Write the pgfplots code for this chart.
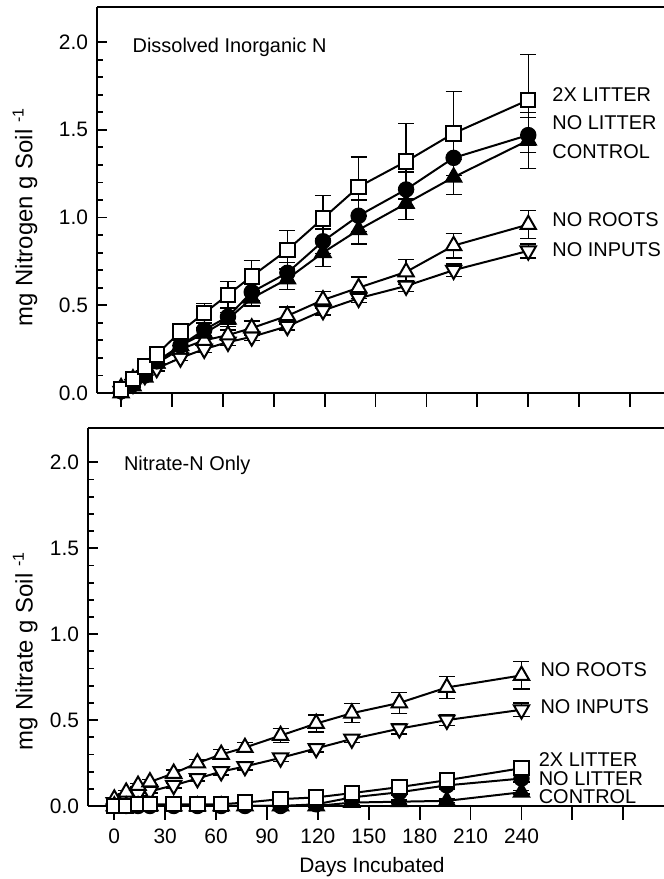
\documentclass[border=0pt]{standalone}
\usepackage{fontspec}
\setmainfont{Liberation Sans}
\usepackage{pgfplots}
\pgfplotsset{compat=1.18}
\tikzset{lab/.style={anchor=west, inner sep=0pt, font=\fontsize{10}{12}\selectfont}}
\begin{document}
\begin{tikzpicture}
\path[use as bounding box] (0,0) rectangle (332bp,439.5bp);
\pgfplotsset{
  panel/.style={
    scale only axis, ymin=0, ymax=2.2, clip=false,
    axis x line=box, axis y line*=left,
    xtick pos=bottom, ytick pos=left,
    xtick align=outside, ytick align=inside,
    major tick length=5bp, minor tick length=2.8bp,
    xtick style={/pgfplots/major tick length=7bp},
    axis line style={line width=1bp},
    every tick/.style={black, line width=0.9bp},
    xtick={0,30,...,300}, ytick={0,0.5,...,2.0}, minor y tick num=4,
    font=\fontsize{10.5}{12}\selectfont,
    /pgf/number format/assume math mode=true,
    yticklabel style={/pgf/number format/fixed, /pgf/number format/fixed zerofill,
      /pgf/number format/precision=1, xshift=-1bp},
    xticklabel style={yshift=-3bp},
  },
  ser/.style={black, line width=1bp, mark options={solid, line width=0.8bp},
    error bars/y dir=both, error bars/y explicit,
    error bars/error bar style={line width=0.7bp},
    error bars/error mark options={rotate=90, mark size=4bp, line width=0.7bp}},
  sq/.style={ser, mark=square*, mark size=3.6bp, mark options={fill=white}},
  ci/.style={ser, mark=*, mark size=3.6bp, mark options={fill=black}},
  tf/.style={ser, mark=triangle*, mark size=4.4bp, mark options={fill=black}},
  tu/.style={ser, mark=triangle*, mark size=4.4bp, mark options={fill=white}},
  td/.style={ser, mark=triangle*, mark size=4.4bp, mark options={fill=white, rotate=180}},
}
% top panel: dissolved inorganic N
\begin{axis}[panel,
  at={(48.5bp,243bp)}, anchor=south west,
  width=283.5bp, height=193bp,
  xmin=-14.2, xmax=320,
  xticklabels={},
  ylabel={mg Nitrogen g Soil\ \textsuperscript{-1}},
  every axis y label/.style={at={(axis description cs:-0.127,0.456)}, rotate=90, anchor=center, font=\fontsize{12}{14}\selectfont},
]
\addplot[td] table[y error=e] {
x y e
0 0.01 0.01
7 0.05 0.01
14 0.10 0.01
21 0.14 0.015
35 0.20 0.015
49 0.25 0.02
63 0.29 0.02
77 0.32 0.02
98 0.38 0.02
119 0.47 0.025
140 0.54 0.025
168 0.61 0.03
196 0.70 0.035
240 0.81 0.04
};
\addplot[tu] table[y error=e] {
x y e
0 0.03 0.01
7 0.08 0.01
14 0.13 0.015
21 0.17 0.02
35 0.25 0.02
49 0.30 0.025
63 0.33 0.03
77 0.37 0.04
98 0.44 0.05
119 0.53 0.05
140 0.60 0.06
168 0.69 0.07
196 0.84 0.07
240 0.96 0.08
};
\addplot[tf] table[y error=e] {
x y e
0 0.00 0.01
7 0.04 0.01
14 0.09 0.015
21 0.17 0.02
35 0.27 0.03
49 0.34 0.03
63 0.42 0.04
77 0.54 0.045
98 0.65 0.06
119 0.80 0.08
140 0.93 0.08
168 1.08 0.09
196 1.23 0.10
240 1.44 0.16
};
\addplot[ci] table[y error=e] {
x y e
0 0.01 0.01
7 0.05 0.01
14 0.10 0.015
21 0.18 0.02
35 0.27 0.03
49 0.36 0.035
63 0.435 0.045
77 0.575 0.05
98 0.685 0.06
119 0.865 0.07
140 1.01 0.09
168 1.16 0.10
196 1.34 0.10
240 1.47 0.10
};
\addplot[sq] table[y error=e] {
x y e
0 0.02 0.01
7 0.08 0.01
14 0.15 0.02
21 0.22 0.02
35 0.35 0.04
49 0.455 0.055
63 0.56 0.075
77 0.665 0.09
98 0.815 0.11
119 0.995 0.13
140 1.175 0.17
168 1.32 0.215
196 1.48 0.24
240 1.67 0.26
};
\node[lab] at (axis cs:6.6,1.97) {Dissolved Inorganic N};
\node[lab] at (axis cs:254,1.70) {2X LITTER};
\node[lab] at (axis cs:254,1.54) {NO LITTER};
\node[lab] at (axis cs:254,1.374) {CONTROL};
\node[lab] at (axis cs:254,0.99) {NO ROOTS};
\node[lab] at (axis cs:254,0.815) {NO INPUTS};
\end{axis}
% bottom panel: nitrate-N only
\begin{axis}[panel,
  at={(44bp,36.5bp)}, anchor=south west,
  width=288bp, height=189bp,
  xmin=-15.5, xmax=324,
  xticklabels={0,30,60,90,120,150,180,210,240,{},{}},
  xlabel={Days Incubated},
  every axis x label/.style={at={(axis description cs:0.493,0)}, anchor=north, yshift=-22bp},
  ylabel={mg Nitrate g Soil\ \textsuperscript{-1}},
  every axis y label/.style={at={(axis description cs:-0.109,0.41)}, rotate=90, anchor=center, font=\fontsize{12}{14}\selectfont},
]
\addplot[td] table[y error=e] {
x y e
0 0.02 0.01
7 0.04 0.01
14 0.07 0.01
21 0.085 0.01
35 0.12 0.015
49 0.16 0.015
63 0.20 0.02
77 0.23 0.02
98 0.28 0.02
119 0.335 0.02
140 0.39 0.02
168 0.45 0.03
196 0.50 0.03
240 0.56 0.04
};
\addplot[tu] table[y error=e] {
x y e
0 0.04 0.01
7 0.08 0.01
14 0.12 0.01
21 0.14 0.015
35 0.19 0.02
49 0.25 0.02
63 0.30 0.03
77 0.34 0.03
98 0.41 0.04
119 0.48 0.05
140 0.54 0.055
168 0.60 0.06
196 0.69 0.065
240 0.76 0.08
};
\addplot[tf] table[y error=e] {
x y e
0 0.0 0.005
7 0.0 0.005
14 0.0 0.005
21 0.0 0.005
35 0.0 0.005
49 0.0 0.005
63 0.0 0.005
77 0.0 0.005
98 0.0 0.005
119 0.0 0.005
140 0.02 0.01
168 0.025 0.01
196 0.03 0.01
240 0.08 0.01
};
\addplot[ci] table[y error=e] {
x y e
0 0.0 0.005
7 0.0 0.005
14 0.0 0.005
21 0.0 0.005
35 0.0 0.005
49 0.0 0.005
63 0.0 0.005
77 0.0 0.005
98 0.0 0.005
119 0.01 0.01
140 0.05 0.01
168 0.08 0.015
196 0.12 0.02
240 0.16 0.02
};
\addplot[sq] table[y error=e] {
x y e
0 0.0 0.005
7 0.0 0.005
14 0.01 0.005
21 0.01 0.005
35 0.01 0.005
49 0.01 0.005
63 0.01 0.005
77 0.02 0.005
98 0.04 0.01
119 0.05 0.01
140 0.075 0.01
168 0.11 0.015
196 0.15 0.015
240 0.22 0.02
};
\node[lab] at (axis cs:5.5,1.98) {Nitrate-N Only};
\node[lab] at (axis cs:251,0.795) {NO ROOTS};
\node[lab] at (axis cs:251,0.58) {NO INPUTS};
\node[lab] at (axis cs:250,0.268) {2X LITTER};
\node[lab] at (axis cs:250,0.16) {NO LITTER};
\node[lab] at (axis cs:250,0.055) {CONTROL};
\end{axis}
\end{tikzpicture}
\end{document}
